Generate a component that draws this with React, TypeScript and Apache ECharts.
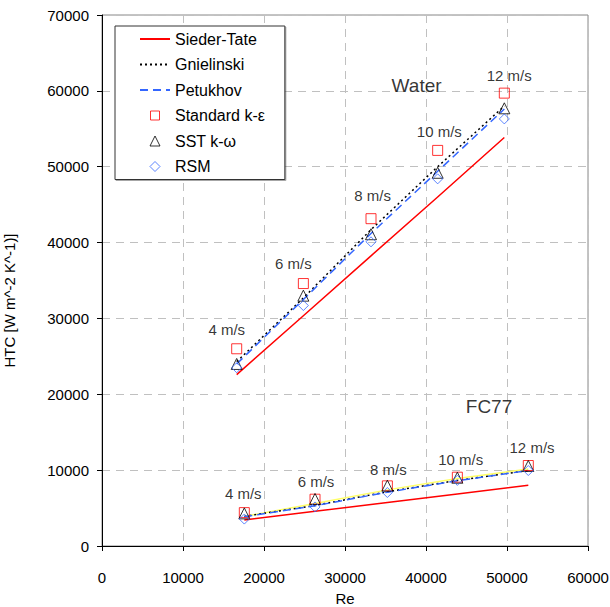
import React, { useEffect, useRef } from "react";
import * as echarts from "echarts";

const reWater = [16630, 24860, 33210, 41440, 49670];
const waterStdKE = [26000, 34600, 43150, 52150, 59700];
const waterSST = [24000, 33000, 41100, 49200, 57700];
const waterRSM = [23500, 31700, 40100, 48400, 56300];
const waterSiederTate = [22600, 30350, 38250, 46000, 53850];
const waterGnielinski = [24300, 32700, 41700, 50000, 58000];
const waterPetukhov = [24000, 32500, 41200, 49400, 57600];

const reFC77 = [17570, 26300, 35230, 43870, 52630];
const fcStdKE = [4400, 6170, 7930, 9070, 10610];
const fcSST = [4300, 6200, 7950, 9000, 10550];
const fcRSM = [3550, 5150, 7050, 8650, 9950];
const fcSiederTate = [3430, 4570, 5740, 6870, 8010];
const fcGnielinski = [3900, 5350, 7150, 8650, 9950];
const fcPetukhov = [3850, 5300, 7100, 8600, 9950];
const fcOther = [3900, 5600, 7400, 8900, 10150];

const velocities = ["4 m/s", "6 m/s", "8 m/s", "10 m/s", "12 m/s"];
const waterLabelRe = [15400, 23620, 33420, 41640, 50280];
const waterLabelHTC = [28530, 37250, 46140, 54590, 61990];
const fcLabelRe = [17440, 26420, 35350, 44280, 53090];
const fcLabelHTC = [6870, 8490, 10130, 11360, 13040];

const fluidNames = ["Water", "FC77"];
const fluidLabelRe = [38840, 47780];
const fluidLabelHTC = [60670, 18400];

const lineLegendNames = ["Sieder-Tate", "Gnielinski", "Petukhov"];
const markerLegendNames = ["Standard k-ε", "SST k-ω", "RSM"];

const FONT = "Arial, 'Liberation Sans', sans-serif";

const zip = (xs: number[], ys: number[]) => xs.map((x, i) => [x, ys[i]]);

// legend icons: 30x10 bounding box (corner moveTo points) with a small centred marker
const legendIcons: Record<string, string> = {
  "Standard k-ε": "path://M0,0M30,10M10.5,0.5L19.5,0.5L19.5,9.5L10.5,9.5Z",
  "SST k-ω": "path://M0,0M30,10M15,0L20,10L10,10Z",
  RSM: "path://M0,0M30,10M15,0L20,5L15,10L10,5Z",
};

export default function App() {
  const ref = useRef<HTMLDivElement>(null);
  useEffect(() => {
    if (!ref.current) return;
    const chart = echarts.init(ref.current, undefined, { renderer: "svg" });

    const lineSeries = (name: string, data: number[][], color: string, type: any) => ({
      name,
      type: "line",
      data,
      symbol: "none",
      silent: true,
      lineStyle: { color, width: 1.5, type },
      itemStyle: { color },
      z: 2,
    });
    const markerSeries = (name: string, data: number[][], symbol: string, size: number, color: string) => ({
      name,
      type: "scatter",
      data,
      symbol,
      symbolSize: size,
      silent: true,
      itemStyle: { color: "rgba(255,255,255,0)", borderColor: color, borderWidth: 1 },
      z: 3,
    });
    const textSeries = (name: string, data: any[], fontSize: number) => ({
      name,
      type: "scatter",
      data,
      symbolSize: 1,
      silent: true,
      itemStyle: { color: "rgba(0,0,0,0)" },
      label: {
        show: true,
        position: "inside",
        formatter: (p: any) => p.value[2],
        color: "#000",
        fontSize,
        fontFamily: FONT,
      },
      z: 4,
    });

    const red = "#ff0000";
    const blue = "#3366ff";
    const plain = (v: number) => String(v);

    chart.setOption({
      animation: false,
      backgroundColor: "#fff",
      grid: {
        left: 102,
        right: 22,
        top: 15,
        bottom: 61,
        outerBoundsMode: "none",
        containLabel: false,
        show: true,
        borderColor: "#888",
        borderWidth: 1,
        backgroundColor: "transparent",
      },
      legend: {
        data: [
          ...lineLegendNames.map((n) => ({ name: n, itemStyle: { opacity: 0 } })),
          ...markerLegendNames.map((n) => ({
            name: n,
            icon: legendIcons[n],
            itemStyle: { borderWidth: 1 },
          })),
        ],
        orient: "vertical",
        left: 115,
        top: 26,
        padding: [5, 20, 5, 24],
        itemWidth: 30,
        itemHeight: 10,
        itemGap: 9.5,
        backgroundColor: "#fff",
        borderColor: "#333",
        borderWidth: 1,
        shadowColor: "rgba(0,0,0,0.35)",
        shadowOffsetX: 1,
        shadowOffsetY: 1,
        shadowBlur: 1,
        textStyle: { fontSize: 16, fontFamily: FONT, color: "#000" },
        selectedMode: false,
      },
      xAxis: {
        type: "value",
        min: 0,
        max: 60000,
        interval: 10000,
        name: "Re",
        nameLocation: "middle",
        nameGap: 45,
        nameTextStyle: { fontSize: 15, fontFamily: FONT, color: "#000" },
        axisLine: { show: true, onZero: false, lineStyle: { color: "#000", width: 1 } },
        axisTick: { show: true, inside: false, length: 5, lineStyle: { color: "#000" } },
        axisLabel: { fontSize: 15, fontFamily: FONT, color: "#000", margin: 24, formatter: plain },
        splitLine: { show: true, lineStyle: { color: "#c0c0c0", type: [8, 6], width: 1 } },
      },
      yAxis: {
        type: "value",
        min: 0,
        max: 70000,
        interval: 10000,
        name: "HTC [W m^-2 K^-1)]",
        nameLocation: "middle",
        nameGap: 85,
        nameRotate: 90,
        nameTextStyle: { fontSize: 15, fontFamily: FONT, color: "#000", padding: [0, 40, 0, 0] },
        axisLine: { show: true, onZero: false, lineStyle: { color: "#000", width: 1 } },
        axisTick: { show: true, inside: false, length: 5, lineStyle: { color: "#000" } },
        axisLabel: { fontSize: 15, fontFamily: FONT, color: "#000", margin: 13, formatter: plain },
        splitLine: { show: true, lineStyle: { color: "#c0c0c0", type: [8, 6], width: 1 } },
      },
      series: [
        lineSeries("Sieder-Tate", zip(reWater, waterSiederTate), red, "solid"),
        lineSeries("Sieder-Tate", zip(reFC77, fcSiederTate), red, "solid"),
        lineSeries("FC77 correlation", zip(reFC77, fcOther), "#ffff66", "solid"),
        lineSeries("Gnielinski", zip(reWater, waterGnielinski), "#000", [2, 3]),
        lineSeries("Gnielinski", zip(reFC77, fcGnielinski), "#000", [2, 3]),
        lineSeries("Petukhov", zip(reWater, waterPetukhov), blue, [8, 5]),
        lineSeries("Petukhov", zip(reFC77, fcPetukhov), blue, [8, 5]),
        markerSeries("Standard k-ε", zip(reWater, waterStdKE), "rect", 10, red),
        markerSeries("Standard k-ε", zip(reFC77, fcStdKE), "rect", 10, red),
        markerSeries("SST k-ω", zip(reWater, waterSST), "triangle", 11, "#000"),
        markerSeries("SST k-ω", zip(reFC77, fcSST), "triangle", 11, "#000"),
        markerSeries("RSM", zip(reWater, waterRSM), "diamond", 10, blue),
        markerSeries("RSM", zip(reFC77, fcRSM), "diamond", 10, blue),
        textSeries(
          "velocity labels water",
          velocities.map((v, i) => [waterLabelRe[i], waterLabelHTC[i], v]),
          15
        ),
        textSeries(
          "velocity labels fc77",
          velocities.map((v, i) => [fcLabelRe[i], fcLabelHTC[i], v]),
          15
        ),
        textSeries(
          "fluid labels",
          fluidNames.map((v, i) => [fluidLabelRe[i], fluidLabelHTC[i], v]),
          19
        ),
      ],
    });
    return () => chart.dispose();
  }, []);
  return (
    <div
      ref={ref}
      style={{ position: "fixed", left: 0, top: 0, width: 610, height: 607, background: "#fff" }}
    />
  );
}
